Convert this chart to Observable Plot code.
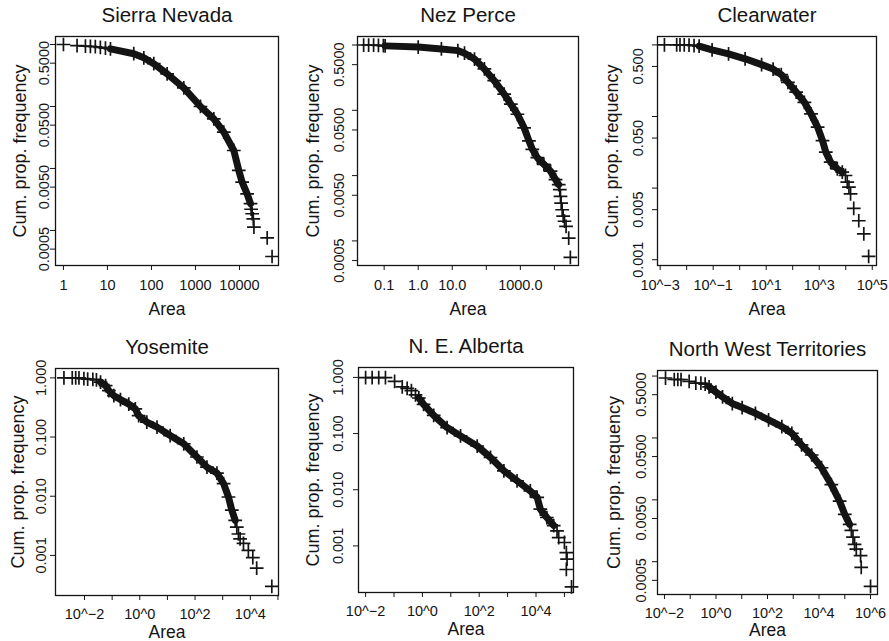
<!DOCTYPE html>
<html><head><meta charset="utf-8">
<script src="https://cdn.jsdelivr.net/npm/d3@7"></script>
<script src="https://cdn.jsdelivr.net/npm/@observablehq/plot@0.6"></script>
<style>
body{margin:0;background:#fff;}
#wrap{position:relative;width:889px;height:641px;overflow:hidden;background:#fff;}
.panel{position:absolute;}
</style></head><body><div id="wrap"></div>
<script>
// ---------- data ----------
const titles = ["Sierra Nevada", "Nez Perce", "Clearwater", "Yosemite", "N. E. Alberta", "North West Territories"];
const xLabelText = "Area";
const yLabelText = "Cum. prop. frequency";

// Sierra Nevada
const sierraPtsArea = [1, 2.04, 3.16, 4.1, 5.3, 6.9, 9, 18400, 19400, 20600, 21300, 42600, 55000];
const sierraPtsFreq = [1.0, 0.96, 0.94, 0.93, 0.92, 0.9, 0.87, 0.0022, 0.00186, 0.00154, 0.00113, 0.00076, 0.00038];
const sierraBandArea = [11.7, 39.6, 67, 113, 227, 543, 1300, 2610, 4400, 7430, 9650, 11500, 14900, 17800];
const sierraBandFreq = [0.85, 0.71, 0.61, 0.49, 0.336, 0.2, 0.1, 0.063, 0.0386, 0.0195, 0.0093, 0.006, 0.0039, 0.0027];

// Nez Perce
const nezPtsArea = [0.025, 0.035, 0.049, 0.068, 0.095, 14400, 15100, 15800, 16900, 18100, 19800, 22000, 26300, 29400];
const nezPtsFreq = [1.0, 1.0, 1.0, 0.99, 0.98, 0.0061, 0.0048, 0.0038, 0.003, 0.0024, 0.002, 0.00167, 0.0011, 0.00056];
const nezBandArea = [0.107, 1.0, 4.8, 14.6, 22.9, 45, 88, 171, 335, 525, 820, 1290, 1790, 2250, 3160, 4900, 7700, 10800, 13400];
const nezBandFreq = [0.97, 0.93, 0.87, 0.82, 0.75, 0.61, 0.43, 0.284, 0.177, 0.124, 0.087, 0.054, 0.034, 0.0253, 0.0188, 0.0149, 0.0117, 0.0087, 0.0073];

// Clearwater
const clearPtsArea = [0.00145, 0.0042, 0.0056, 0.0081, 0.0123, 0.019, 9800, 11400, 13200, 15200, 20000, 31000, 48000, 73000];
const clearPtsFreq = [1.0, 1.0, 1.0, 1.0, 0.99, 0.98, 0.015, 0.0121, 0.0103, 0.0083, 0.0052, 0.0035, 0.0023, 0.00111];
const clearBandArea = [0.0295, 0.091, 0.38, 1.6, 6.7, 18.2, 37, 66, 135, 275, 490, 870, 1330, 1770, 2700, 4800, 7400];
const clearBandFreq = [0.96, 0.85, 0.75, 0.64, 0.53, 0.46, 0.385, 0.30, 0.219, 0.158, 0.109, 0.071, 0.046, 0.0318, 0.023, 0.0186, 0.0167];

// Yosemite
const yosePtsArea = [0.0018, 0.0036, 0.0048, 0.0063, 0.0095, 0.013, 0.02, 0.027, 3240, 3720, 4270, 5660, 8500, 12300, 17000, 60000];
const yosePtsFreq = [1.0, 1.0, 1.0, 1.0, 0.97, 0.95, 0.94, 0.925, 0.003, 0.0023, 0.0019, 0.0016, 0.00122, 0.00092, 0.00061, 0.0003];
const yoseBandArea = [0.038, 0.058, 0.076, 0.115, 0.2, 0.4, 0.69, 0.91, 1.8, 4.2, 12.6, 39, 117, 270, 620, 1080, 1620, 2140, 2840];
const yoseBandFreq = [0.85, 0.74, 0.61, 0.50, 0.43, 0.36, 0.30, 0.23, 0.179, 0.147, 0.106, 0.077, 0.046, 0.031, 0.0246, 0.0163, 0.0097, 0.0058, 0.0039];

// N. E. Alberta
const albPtsArea = [0.01, 0.017, 0.029, 0.05, 0.105, 0.195, 0.29, 0.41, 0.57, 55000, 63000, 100000, 117000, 124000, 117000, 178000];
const albPtsFreq = [0.99, 0.99, 0.99, 0.99, 0.85, 0.68, 0.64, 0.58, 0.49, 0.00185, 0.0014, 0.00115, 0.00076, 0.00058, 0.00038, 0.000186];
const albBandArea = [0.75, 1.1, 2.5, 7.4, 22, 85, 250, 740, 2150, 6300, 11000, 14200, 24000, 42000];
const albBandFreq = [0.43, 0.33, 0.21, 0.128, 0.091, 0.06, 0.0375, 0.0217, 0.0144, 0.0095, 0.0073, 0.0045, 0.0032, 0.0023];

// North West Territories
const nwtPtsArea = [0.011, 0.024, 0.033, 0.044, 0.091, 0.165, 0.26, 0.38, 180000, 208000, 240000, 280000, 410000, 435000, 1000000];
const nwtPtsFreq = [0.93, 0.88, 0.88, 0.88, 0.82, 0.77, 0.77, 0.74, 0.0032, 0.0025, 0.0019, 0.0016, 0.00125, 0.00081, 0.0004];
const nwtBandArea = [0.54, 1.0, 1.8, 4.3, 10.4, 34, 110, 360, 880, 2100, 5200, 12500, 30000, 63000, 100000, 155000];
const nwtBandFreq = [0.67, 0.55, 0.46, 0.36, 0.31, 0.25, 0.195, 0.152, 0.119, 0.077, 0.053, 0.033, 0.0176, 0.0095, 0.0058, 0.004];

// tick values and labels ("" = tick without label)
const sierraXTicks = [1, 10, 100, 1000, 10000];
const sierraXLabels = ["1", "10", "100", "1000", "10000"];
const nezXTicks = [0.1, 1, 10, 100, 1000, 10000];
const nezXLabels = ["0.1", "1.0", "10.0", "", "1000.0", ""];
const clearXTicks = [1e-3, 1e-2, 1e-1, 1, 10, 100, 1000, 1e4, 1e5];
const clearXLabels = ["10^\u22123", "", "10^\u22121", "", "10^1", "", "10^3", "", "10^5"];
const yoseXTicks = [1e-2, 1e-1, 1, 10, 100, 1000, 1e4, 1e5];
const yoseXLabels = ["10^\u22122", "", "10^0", "", "10^2", "", "10^4", ""];
const albXTicks = [1e-2, 1e-1, 1, 10, 100, 1000, 1e4, 1e5];
const albXLabels = ["10^\u22122", "", "10^0", "", "10^2", "", "10^4", ""];
const nwtXTicks = [1e-2, 1e-1, 1, 10, 100, 1000, 1e4, 1e5, 1e6];
const nwtXLabels = ["10^\u22122", "", "10^0", "", "10^2", "", "10^4", "", "10^6"];

const y4Ticks = [1, 0.5, 0.1, 0.05, 0.01, 0.005, 0.001, 0.0005];
const y4Labels = ["", "0.5000", "", "0.0500", "", "0.0050", "", "0.0005"];
const clearYTicks = [1, 0.5, 0.1, 0.05, 0.01, 0.005, 0.001];
const clearYLabels = ["", "0.500", "", "0.050", "", "0.005", "0.001"];
const y3Ticks = [1, 0.1, 0.01, 0.001];
const y3Labels = ["1.000", "0.100", "0.010", "0.001"];

// ---------- layout ----------
const panels = [
  {title: titles[0], left: 0, top: 0, w: 296, h: 320, mL: 55, mR: 18, mT: 36, mB: 55,
   xd: [0.66, 77000], yd: [0.000272, 1.346], xt: sierraXTicks, xl: sierraXLabels, yt: y4Ticks, yl: y4Labels,
   pa: sierraPtsArea, pf: sierraPtsFreq, ba: sierraBandArea, bf: sierraBandFreq, yPad: 2, yLab: 35, aDy: 44, xPad: 9},
  {title: titles[1], left: 296, top: 0, w: 296, h: 320, mL: 61, mR: 14, mT: 36, mB: 55,
   xd: [0.0165, 51000], yd: [0.00042, 1.35], xt: nezXTicks, xl: nezXLabels, yt: y4Ticks, yl: y4Labels,
   pa: nezPtsArea, pf: nezPtsFreq, ba: nezBandArea, bf: nezBandFreq, yPad: 8.5, yLab: 44, aDy: 44, xPad: 9},
  {title: titles[2], left: 592, top: 0, w: 297, h: 320, mL: 65, mR: 13, mT: 36, mB: 55,
   xd: [Math.pow(10, -3.1), Math.pow(10, 5.16)], yd: [0.00083, 1.31], xt: clearXTicks, xl: clearXLabels, yt: clearYTicks, yl: clearYLabels,
   pa: clearPtsArea, pf: clearPtsFreq, ba: clearBandArea, bf: clearBandFreq, yPad: 10, yLab: 45, aDy: 44, xPad: 9},
  {title: titles[3], left: 0, top: 320, w: 296, h: 321, mL: 55, mR: 18, mT: 48, mB: 46,
   xd: [Math.pow(10, -3.05), Math.pow(10, 5.02)], yd: [0.00021, 1.44], xt: yoseXTicks, xl: yoseXLabels, yt: y3Ticks, yl: y3Labels,
   pa: yosePtsArea, pf: yosePtsFreq, ba: yoseBandArea, bf: yoseBandFreq, yPad: 4.5, yLab: 37, aDy: 37, xPad: 8},
  {title: titles[4], left: 296, top: 320, w: 296, h: 321, mL: 62, mR: 19, mT: 47, mB: 49,
   xd: [Math.pow(10, -2.25), Math.pow(10, 5.32)], yd: [0.000148, 1.5], xt: albXTicks, xl: albXLabels, yt: y3Ticks, yl: y3Labels,
   pa: albPtsArea, pf: albPtsFreq, ba: albBandArea, bf: albBandFreq, yPad: 10.5, yLab: 45, aDy: 37, xPad: 8},
  {title: titles[5], left: 592, top: 320, w: 297, h: 321, mL: 65, mR: 12, mT: 50, mB: 47,
   xd: [Math.pow(10, -2.27), Math.pow(10, 6.27)], yd: [0.000295, 1.23], xt: nwtXTicks, xl: nwtXLabels, yt: y4Ticks, yl: y4Labels,
   pa: nwtPtsArea, pf: nwtPtsFreq, ba: nwtBandArea, bf: nwtBandFreq, yPad: 6.5, yLab: 43, aDy: 36, xPad: 8}
];

const FONT = "'Liberation Sans', Arial, Helvetica, sans-serif";
const INK = "#141414";
const TICK = 5;
const wrap = document.getElementById("wrap");

for (const p of panels) {
  const band = p.ba.map((a, i) => ({area: a, freq: p.bf[i]}));
  const pts = p.pa.map((a, i) => ({area: a, freq: p.pf[i]})).concat(band);
  const xLab = p.xt.map((v, i) => ({v, s: p.xl[i]})).filter((d) => d.s);
  const yLab = p.yt.map((v, i) => ({v, s: p.yl[i]})).filter((d) => d.s);
  const chart = Plot.plot({
    width: p.w, height: p.h,
    marginLeft: p.mL, marginRight: p.mR, marginTop: p.mT, marginBottom: p.mB,
    style: {fontFamily: FONT, fontWeight: "400", background: "white", color: INK, overflow: "visible"},
    x: {type: "log", domain: p.xd},
    y: {type: "log", domain: p.yd},
    marks: [
      Plot.line(band, {x: "area", y: "freq", stroke: INK, strokeWidth: 7, strokeLinejoin: "round", strokeLinecap: "round"}),
      Plot.dot(pts, {x: "area", y: "freq", symbol: "plus", r: 4.5, stroke: INK, strokeWidth: 1.7}),
      Plot.frame({stroke: INK, strokeWidth: 1.3}),
      Plot.axisX({ticks: p.xt, tickFormat: () => "", tickSize: TICK, label: null, stroke: INK}),
      Plot.axisY({ticks: p.yt, tickFormat: () => "", tickSize: TICK, label: null, stroke: INK}),
      Plot.text(xLab, {x: "v", text: "s", frameAnchor: "bottom", dy: TICK + p.xPad, lineAnchor: "top", textAnchor: "middle", fontSize: 14.5, fontWeight: 400, fill: INK}),
      Plot.text(yLab, {y: "v", text: "s", frameAnchor: "left", dx: -(TICK + p.yPad), rotate: -90, lineAnchor: "bottom", textAnchor: "middle", fontSize: 14.5, fontWeight: 400, fill: INK}),
      Plot.text([p.title], {text: (d) => d, frameAnchor: "top", dy: -21, fontSize: 20.5, fontWeight: 400, lineAnchor: "middle", fill: INK}),
      Plot.text([xLabelText], {text: (d) => d, frameAnchor: "bottom", dy: p.aDy, fontSize: 17.5, fontWeight: 400, lineAnchor: "middle", fill: INK}),
      Plot.text([yLabelText], {text: (d) => d, frameAnchor: "left", dx: -p.yLab, rotate: -90, fontSize: 18, fontWeight: 400, lineAnchor: "middle", textAnchor: "middle", fill: INK})
    ]
  });
  const div = document.createElement("div");
  div.className = "panel";
  div.style.left = p.left + "px";
  div.style.top = p.top + "px";
  div.appendChild(chart);
  wrap.appendChild(div);
}
</script>
</body></html>
